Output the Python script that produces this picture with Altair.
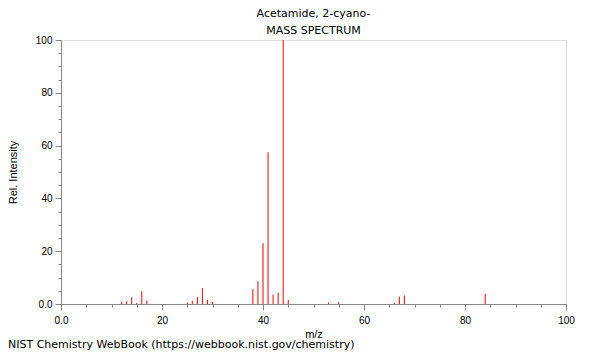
import altair as alt
import pandas as pd

mz = [12, 13, 14, 15, 16, 17, 25, 26, 27, 28, 29, 30, 38, 39, 40, 41, 42, 43, 44, 45, 53, 55, 66, 67, 68, 84]
intensity = [0.8, 1.0, 2.5, 0.4, 4.8, 1.3, 0.5, 1.2, 2.6, 6.0, 1.5, 0.8, 5.6, 8.6, 23.0, 57.5, 3.6, 4.3, 100.0, 1.5, 0.6, 0.7, 0.5, 2.8, 3.2, 3.8]

title_lines = ["Acetamide, 2-cyano-", "MASS SPECTRUM"]
x_title = "m/z"
y_title = "Rel. Intensity"
footer = "NIST Chemistry WebBook (https://webbook.nist.gov/chemistry)"
major_ticks = [0, 20, 40, 60, 80, 100]
minor_ticks = [v for v in range(0, 101, 5)]

FONT = "DejaVu Sans"
df = pd.DataFrame({"mz": mz, "intensity": intensity})

xscale = alt.Scale(domain=[0, 100], nice=False, zero=True)
yscale = alt.Scale(domain=[0, 100], nice=False, zero=True)
label_expr = "datum.value == 0 ? '0.0' : datum.label"

bars = alt.Chart(df).mark_rule(color="#ff0000", strokeWidth=1).encode(
    x=alt.X("mz:Q", scale=xscale,
            axis=alt.Axis(values=major_ticks, title=x_title, labelExpr=label_expr,
                          tickSize=6, labelPadding=5, titlePadding=3, grid=False,
                          labelFlush=False, labelOverlap=False,
                          titleFontWeight="normal", domain=True, orient="bottom")),
    y=alt.Y("intensity:Q", scale=yscale,
            axis=alt.Axis(values=major_ticks, title=y_title, labelExpr=label_expr,
                          tickSize=6, labelPadding=3, titlePadding=17, grid=False,
                          labelFlush=False, labelOverlap=False,
                          titleFontWeight="normal", domain=True, orient="left")),
    y2=alt.datum(0),
)

minor = alt.Chart(df).mark_point(opacity=0, size=0).encode(
    x=alt.X("mz:Q", scale=xscale,
            axis=alt.Axis(values=minor_ticks, labels=False, title=None, tickSize=3,
                          grid=False, domain=False, orient="bottom")),
    y=alt.Y("intensity:Q", scale=yscale,
            axis=alt.Axis(values=minor_ticks, labels=False, title=None, tickSize=3,
                          grid=False, domain=False, orient="left")),
)

foot = alt.Chart(pd.DataFrame({"t": [footer]})).mark_text(
    align="left", baseline="middle", font=FONT, fontSize=11, color="#000000"
).encode(text="t:N", x=alt.value(-53), y=alt.value(305))

chart = alt.layer(minor, bars, foot).resolve_axis(x="independent", y="independent").properties(
    width=505, height=264,
    autosize=alt.AutoSizeParams(type="none"),
    padding={"left": 53, "top": 32, "right": 26, "bottom": 48},
    title=alt.TitleParams(title_lines, font=FONT, fontSize=11, fontWeight="normal",
                          anchor="middle", color="#000000", offset=-1, lineHeight=17),
).configure_axis(
    labelFont=FONT, titleFont=FONT, labelFontSize=11, titleFontSize=11,
    titleFontWeight="normal", labelColor="#000000", titleColor="#000000",
    domainColor="#333333", tickColor="#333333", domainWidth=1, tickWidth=1,
).configure_view(stroke="#333333", strokeWidth=1).configure(background="white")

chart.save("out.html", embed_options={"renderer": "svg", "actions": False})
